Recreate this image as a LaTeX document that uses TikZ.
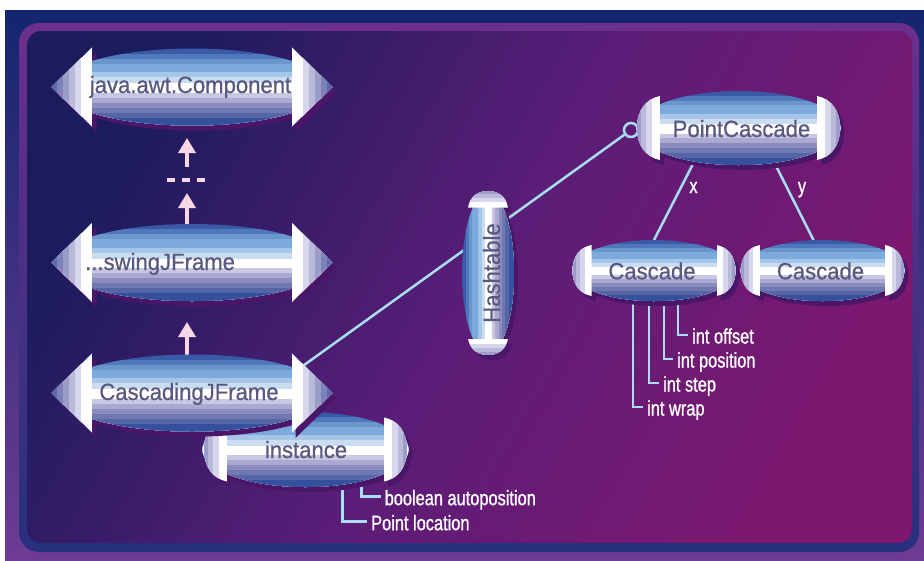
\documentclass[tikz,border=0pt]{standalone}
\usepackage{fontspec}
\setmainfont{Liberation Sans}
\newfontfamily\objfont[FakeStretch=0.94,FakeBold=0.7]{Liberation Sans}
\newfontfamily\attrfont[FakeStretch=0.78,FakeBold=1.0]{Liberation Sans}
\usetikzlibrary{calc,shapes.geometric,arrows.meta}

% frame and field
\definecolor{outerTop}{HTML}{13266F}
\definecolor{outerBot}{HTML}{6E3C92}
\definecolor{bandTop}{HTML}{6C2F8C}
\definecolor{bandBot}{HTML}{26307F}
\definecolor{fieldA}{HTML}{1C1C5C}
\definecolor{fieldB}{HTML}{5A1D78}
\definecolor{fieldC}{HTML}{7C1870}
% objects
\definecolor{objshade}{HTML}{4A1668}
\definecolor{objtxt}{HTML}{5B5880}
\definecolor{linkblue}{HTML}{A8DEF4}
\definecolor{inhpink}{HTML}{F7D6E6}
\definecolor{ebA}{HTML}{3A5AA6}
\definecolor{ebB}{HTML}{5078BC}
\definecolor{ebC}{HTML}{6A96CE}
\definecolor{ebD}{HTML}{7CAADD}
\definecolor{ebE}{HTML}{A6C6E8}
\definecolor{ebF}{HTML}{CADCF0}
\definecolor{ebG}{HTML}{C8C8E2}
\definecolor{ebH}{HTML}{A9A9D1}
\definecolor{ebI}{HTML}{8B8CBD}
\definecolor{ebJ}{HTML}{7078B1}
\definecolor{ebK}{HTML}{5566A7}
\definecolor{ebL}{HTML}{35509C}
\definecolor{capA}{HTML}{D6D6EC}
\definecolor{capB}{HTML}{B9B9DA}
\definecolor{capC}{HTML}{9C9CC8}
\definecolor{capD}{HTML}{7D83B8}
\definecolor{capE}{HTML}{5E6AA9}

% cap outline: #1 path options, #2 A (pointed) or R (rounded), #3 base, #4 width, #5 half height
\newcommand\capshape[5]{%
  \if#2A
    \path[#1] (#3,-#5) -- ({#3+#4},0) -- (#3,#5) -- cycle;
  \else
    \path[#1] (#3,-#5) .. controls ({#3+0.6*#4},{-0.92*#5}) and ({#3+#4},{-0.55*#5}) .. ({#3+#4},0)
      .. controls ({#3+#4},{0.55*#5}) and ({#3+0.6*#4},{0.92*#5}) .. (#3,#5) -- cycle;
  \fi}

% striped cap
\newcommand\capstripes[4]{%
  \begin{scope}
    \capshape{clip}{#1}{#2}{#3}{#4}
    \if#1A
      \foreach \xa/\xc in {0/white,0.28/capA,0.43/capB,0.58/capC,0.72/capD,0.86/capE}
        \fill[\xc] ({#2+\xa*#3},{-#4-1}) rectangle ({#2+#3+1},{#4+1});
    \else
      \foreach \xa/\xc in {0/white,0.36/capA,0.6/capB,0.82/capC}
        \fill[\xc] ({#2+\xa*#3},{-#4-1}) rectangle ({#2+#3+1},{#4+1});
    \fi
  \end{scope}}

% object body: #1 node, #2 angle, #3 rx, #4 ry, #5 cap type, #6 cap base, #7 cap width, #8 cap half height
\newcommand\umlobject[8]{%
  \begin{scope}[shift={(#1.center)}, shift={(4,5)}, rotate=#2]
    \fill[objshade] (0,0) ellipse [x radius=#3, y radius=#4];
    \capshape{fill=objshade}{#5}{#6}{#7}{#8}
    \begin{scope}[xscale=-1]\capshape{fill=objshade}{#5}{#6}{#7}{#8}\end{scope}
  \end{scope}
  \begin{scope}[shift={(#1.center)}, rotate=#2]
    \begin{scope}
      \clip (0,0) ellipse [x radius=#3, y radius=#4];
      \foreach \ya/\yc in {-1.05/ebA,-0.86/ebB,-0.73/ebC,-0.61/ebD,-0.38/ebE,-0.25/ebF,-0.10/white,
                           0.15/ebG,0.28/ebH,0.41/ebI,0.54/ebJ,0.67/ebK,0.80/ebL}
        \fill[\yc] ({-#3-1},{\ya*#4}) rectangle ({#3+1},{1.05*#4});
    \end{scope}
    \capstripes{#5}{#6}{#7}{#8}
    \begin{scope}[xscale=-1]\capstripes{#5}{#6}{#7}{#8}\end{scope}
  \end{scope}}

\tikzset{
  objbox/.style={ellipse, inner sep=0pt, outer sep=0pt},
  objtext/.style={inner sep=0pt, text=objtxt, font=\objfont\fontsize{23.5}{28}\selectfont},
  attrtext/.style={inner xsep=4pt, inner ysep=0pt, text=white, anchor=west,
    text height=17pt, text depth=0pt, font=\attrfont\fontsize{21}{25}\selectfont},
  roletext/.style={inner sep=0pt, text=white, anchor=base, font=\attrfont\fontsize{21}{25}\selectfont},
  attrline/.style={draw=linkblue, line width=2.5pt},
  inherit/.style={draw=inhpink, line width=3.5pt, -{Triangle[width=17pt,length=15pt]}},
  inhgap/.style={draw=inhpink, line width=3.5pt, dash pattern=on 8pt off 7pt},
}

\begin{document}
\begin{tikzpicture}[x=1pt, y=-1pt]
\useasboundingbox (0,0) rectangle (924,560);

% bevelled frame
\shade[top color=outerTop, bottom color=outerBot] (5,10) rectangle (924,560);
\shade[top color=bandTop, bottom color=bandBot, rounded corners=20] (19,23) rectangle (919,552);
\shade[left color=fieldA, right color=fieldC, middle color=fieldB, shading angle=60, rounded corners=14]
  (27,31) rectangle (912,543);

% anchor shapes of the objects
\node[objbox, minimum width=270, minimum height=77] (jc) at (192,87) {};
\node[objbox, minimum width=270, minimum height=77] (sw) at (192,262.5) {};
\node[objbox, minimum width=270, minimum height=77] (cj) at (192,393) {};
\node[objbox, minimum width=204, minimum height=75] (inst) at (305.5,449.5) {};
\node[objbox, minimum width=52, minimum height=160] (ht) at (488,273) {};
\node[objbox, minimum width=204, minimum height=74] (pc) at (738.5,128) {};
\node[objbox, minimum width=164, minimum height=61] (c1) at (654,270.5) {};
\node[objbox, minimum width=164, minimum height=61] (c2) at (822.5,270.5) {};
\node[circle, draw=linkblue, line width=2.5pt, minimum size=14, inner sep=0pt] (lol) at (631,130) {};

% attribute labels
\node[attrtext] (aoff) at (688,335) {int offset};
\node[attrtext] (apos) at (673,359) {int position};
\node[attrtext] (astep) at (659,383) {int step};
\node[attrtext] (awrap) at (643,407) {int wrap};
\node[attrtext] (aauto) at (380.5,496.7) {boolean autoposition};
\node[attrtext] (aloc) at (367,521.7) {Point location};

% connectors
\draw[attrline] (lol) -- ($(cj.center)+(103,-21.4)$);
\draw[attrline] ($(pc.center)+(-45,35)$) -- (c1.north);
\draw[attrline] ($(pc.center)+(36,35)$) -- ($(c2.north)+(-9,0)$);
\node[roletext] (rx) at (693.5,193) {x};
\node[roletext] (ry) at (802,193) {y};
\draw[attrline] ($(c1.center)+(24,0)$) |- (aoff.west);
\draw[attrline] ($(c1.center)+(10,0)$) |- (apos.west);
\draw[attrline] ($(c1.center)+(-5,0)$) |- (astep.west);
\draw[attrline] ($(c1.center)+(-21,0)$) |- (awrap.west);
\draw[attrline] ($(inst.center)+(56,0)$) |- (aauto.west);
\draw[attrline] ($(inst.center)+(37,0)$) |- (aloc.west);

\draw[inherit] ($(cj.north)+(-5,0)$) -- ($(sw.south)+(-5,21)$);
\draw[inherit] ($(sw.north)+(-5,0)$) -- ($(sw.north)+(-5,-31)$);
\draw[inhgap] ($(jc.south)+(-25,54.5)$) -- ($(jc.south)+(15,54.5)$);
\draw[inherit] ($(jc.south)+(-5,41.5)$) -- ($(jc.south)+(-5,12.5)$);

% object bodies
\umlobject{ht}{90}{80}{26}{R}{65.5}{16.5}{20}
\umlobject{pc}{0}{102}{37}{R}{78.5}{23}{32}
\umlobject{c1}{0}{82}{30.5}{R}{62.5}{19}{25.5}
\umlobject{c2}{0}{82}{30.5}{R}{62.5}{19}{25.5}
\umlobject{jc}{0}{135}{38.5}{A}{99.5}{41}{40}
\umlobject{sw}{0}{135}{38.5}{A}{99.5}{41}{40}
\umlobject{inst}{0}{103}{37.5}{R}{78.5}{23}{32}
\umlobject{cj}{0}{135}{38.5}{A}{99.5}{41}{40}

% object names
\node[objtext, anchor=base] (tjc) at (190.5,93) {java.awt.Component};
\node[objtext, anchor=base west] (tsw) at (85,270) {...swingJFrame};
\node[objtext, anchor=base] (tcj) at (189,400) {CascadingJFrame};
\node[objtext, anchor=base] (tinst) at (306,458) {instance};
\node[objtext, anchor=base] (tpc) at (741.5,137) {PointCascade};
\node[objtext, anchor=base] (tc1) at (652,279.3) {Cascade};
\node[objtext, anchor=base] (tc2) at (820.5,279.3) {Cascade};
\node[objtext, rotate=90] (tht) at (491.5,273) {Hashtable};
\end{tikzpicture}
\end{document}
